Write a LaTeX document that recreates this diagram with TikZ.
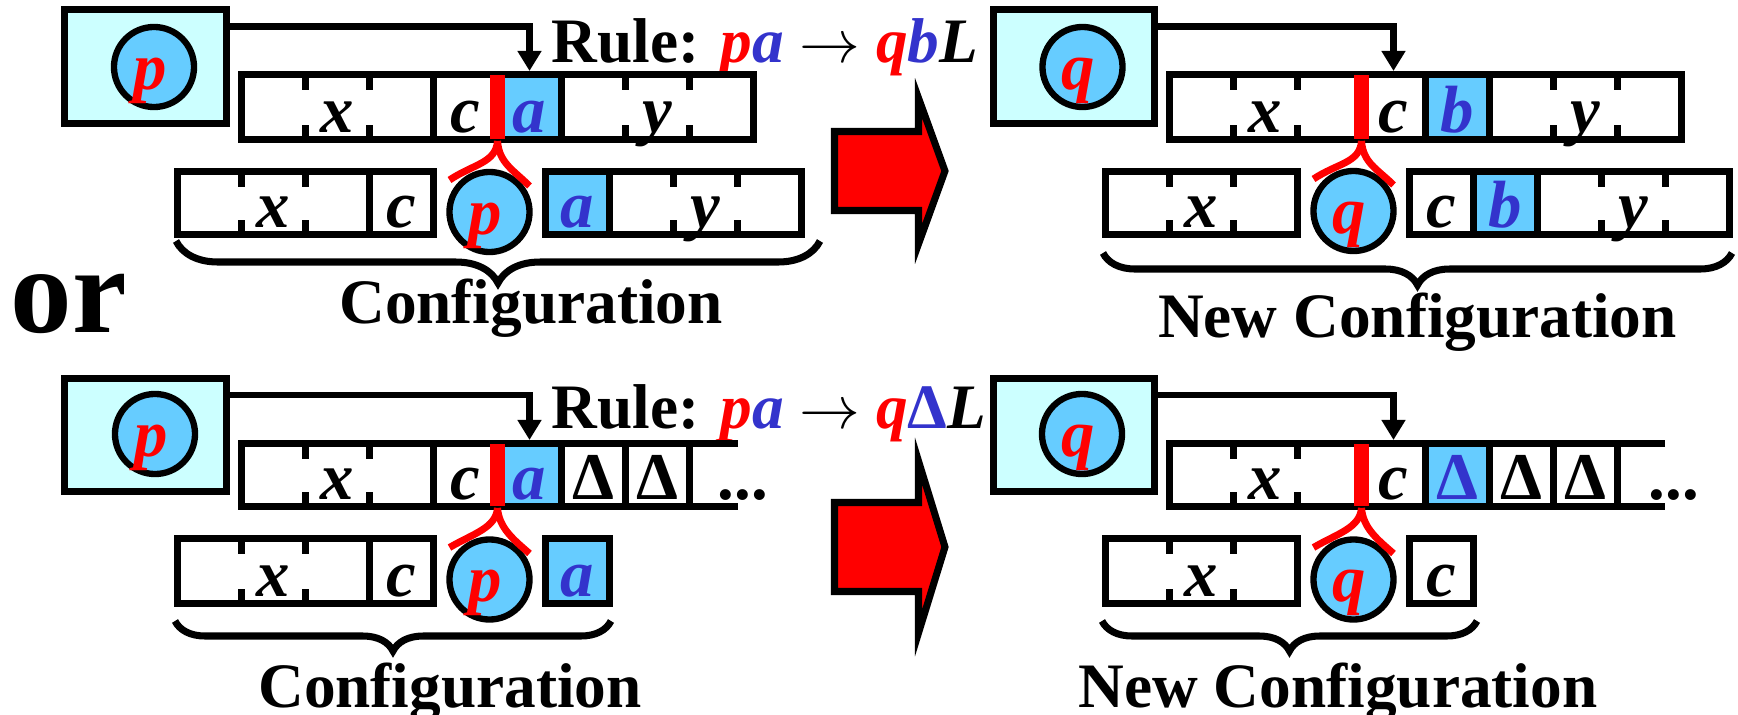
\documentclass[tikz,border=0pt]{standalone}
\usepackage{fontspec}
\setmainfont{Liberation Serif}
\usetikzlibrary{arrows.meta, calc, decorations.pathreplacing}
\definecolor{statecyan}{RGB}{204,255,255}
\definecolor{cellblue}{RGB}{102,204,255}
\definecolor{symblue}{RGB}{51,51,204}

\begin{document}
\begin{tikzpicture}[
  x=0.01cm, y=-0.01cm,
  statebox/.style  = {draw, line width=2pt, fill=statecyan, minimum width=1.61cm,
                      minimum height=1.13cm, inner sep=0pt},
  headcirc/.style  = {circle, draw, line width=1.8pt, fill=cellblue, minimum size=0.80cm, inner sep=0pt},
  tapeline/.style  = {line width=2pt},
  headbar/.style   = {draw=red, line width=4pt},
  fork/.style      = {draw=red, line width=2pt},
  movearrow/.style = {line width=1.9pt, -{Triangle[length=5.7pt, width=6.5pt]}},
  blockarrow/.style= {fill=red, draw=black, line width=2pt, miter limit=10},
  cfgbrace/.style  = {line width=2pt, decorate, decoration={brace, mirror, amplitude=#1}},
  sym/.style       = {anchor=base, inner sep=0pt, font=\fontsize{19}{19}\selectfont\bfseries\itshape},
  dots/.style      = {anchor=base west, inner sep=0pt, font=\fontsize{19}{19}\selectfont\bfseries},
  rulelabel/.style = {anchor=base west, inner sep=0pt, font=\fontsize{18}{18}\selectfont\bfseries},
  cfglabel/.style  = {anchor=base, inner sep=0pt, font=\fontsize{18}{18}\selectfont\bfseries},
]
\useasboundingbox (0,0) rectangle (1738,715);

%% ==================== TOP LEFT: CONFIGURATION ====================
\node[statebox] (stA) at (145.5,66.5) {};
\node[headcirc] (hdA) at (154,67) {};
\node[sym, text=red] (pA) at (150,89) {p};

\node[rulelabel] (ruleA) at (551,62)
  {Rule: \textit{\textcolor{red}{p}\textcolor{symblue}{a}} $\rightarrow$ \textit{\textcolor{red}{q}\textcolor{symblue}{b}L}};

%% upper tape
\fill[cellblue] (497.5,74.5) rectangle (561.5,139.5);
\draw[tapeline] (241.5,74.5) rectangle (753.5,139.5);
\draw[tapeline] (433.5,74.5) -- (433.5,139.5) (561.5,74.5) -- (561.5,139.5);
\foreach \tx in {305.5,369.5,625.5,689.5}
  \draw[tapeline] (\tx,74.5) -- ++(0,15) (\tx,139.5) -- ++(0,-15);
\node[sym] (xA) at (337.5,132) {x};
\node[sym] (cA) at (465.5,132) {c};
\node[sym, text=symblue] (aA) at (529.5,132) {a};
\node[sym] (yA) at (657.5,132) {y};
\draw[headbar] (497.5,75) -- (497.5,139);
\coordinate (barA) at (497.5,141);
\coordinate (scanA) at (529.5,71);
\draw[movearrow] ([yshift=-0.2cm]stA.north east) -| (scanA);

%% lower tape
\draw[tapeline] (177.5,171.5) rectangle (433.5,234.5);
\draw[tapeline] (369.5,171.5) -- (369.5,234.5);
\foreach \tx in {241.5,305.5,673.5,737.5}
  \draw[tapeline] (\tx,171.5) -- ++(0,15) (\tx,234.5) -- ++(0,-15);
\fill[cellblue] (545.5,171.5) rectangle (609.5,234.5);
\draw[tapeline] (545.5,171.5) rectangle (801.5,234.5);
\draw[tapeline] (609.5,171.5) -- (609.5,234.5);
\node[sym] (xA2) at (273.5,227) {x};
\node[sym] (cA2) at (401.5,227) {c};
\node[headcirc] (hdA2) at (489.5,212) {};
\node[sym, text=red] (pA2) at (485.5,234) {p};
\node[sym, text=symblue] (aA2) at (577.5,227) {a};
\node[sym] (yA2) at (705.5,227) {y};

\draw[fork] (barA) .. controls +(-1.5,22) and +(24,-16) .. ($(hdA2)+(-40,-32)$);
\draw[fork] (barA) .. controls +(1.5,22) and +(-16,-16) .. ($(hdA2)+(40,-26)$);

\draw[cfgbrace=0.42cm] (176,241) -- (820,241);
\node[cfglabel] (cfgA) at (531,323) {Configuration};

%% ==================== TOP RIGHT: NEW CONFIGURATION ====================
\node[statebox] (stB) at (1074,66.5) {};
\node[headcirc] (hdB) at (1082.5,67) {};
\node[sym, text=red] (qB) at (1078.5,89) {q};

%% upper tape
\fill[cellblue] (1425.5,74.5) rectangle (1489.5,139.5);
\draw[tapeline] (1169.5,74.5) rectangle (1681.5,139.5);
\draw[tapeline] (1425.5,74.5) -- (1425.5,139.5) (1489.5,74.5) -- (1489.5,139.5);
\foreach \tx in {1233.5,1297.5,1553.5,1617.5}
  \draw[tapeline] (\tx,74.5) -- ++(0,15) (\tx,139.5) -- ++(0,-15);
\node[sym] (xB) at (1265.5,132) {x};
\node[sym] (cB) at (1393.5,132) {c};
\node[sym, text=symblue] (bB) at (1457.5,132) {b};
\node[sym] (yB) at (1585.5,132) {y};
\draw[headbar] (1361.5,75) -- (1361.5,139);
\coordinate (barB) at (1361.5,141);
\coordinate (scanB) at (1393.5,71);
\draw[movearrow] ([yshift=-0.2cm]stB.north east) -| (scanB);

%% lower tape
\draw[tapeline] (1105.5,171.5) rectangle (1297.5,234.5);
\foreach \tx in {1169.5,1233.5,1601.5,1665.5}
  \draw[tapeline] (\tx,171.5) -- ++(0,15) (\tx,234.5) -- ++(0,-15);
\fill[cellblue] (1473.5,171.5) rectangle (1537.5,234.5);
\draw[tapeline] (1409.5,171.5) rectangle (1729.5,234.5);
\draw[tapeline] (1473.5,171.5) -- (1473.5,234.5) (1537.5,171.5) -- (1537.5,234.5);
\node[sym] (xB2) at (1201.5,227) {x};
\node[headcirc] (hdB2) at (1353.5,211) {};
\node[sym, text=red] (qB2) at (1349.5,233) {q};
\node[sym] (cB2) at (1441.5,227) {c};
\node[sym, text=symblue] (bB2) at (1505.5,227) {b};
\node[sym] (yB2) at (1633.5,227) {y};

\draw[fork] (barB) .. controls +(-1.5,22) and +(24,-16) .. ($(hdB2)+(-40,-32)$);
\draw[fork] (barB) .. controls +(1.5,22) and +(-16,-16) .. ($(hdB2)+(40,-26)$);

\draw[cfgbrace=0.32cm] (1103,253) -- (1732,253);
\node[cfglabel] (cfgB) at (1417.5,337) {New Configuration};

%% ==================== STEP ARROWS AND "or" ====================
\draw[blockarrow] (834.5,131.5) -- (918.5,131.5) -- (918.5,98) -- (945,171)
  -- (918.5,244) -- (918.5,210.5) -- (834.5,210.5) -- cycle;
\draw[blockarrow] (834.5,502.5) -- (918.5,502.5) -- (918.5,461) -- (945,547)
  -- (918.5,633) -- (918.5,591.5) -- (834.5,591.5) -- cycle;
\node[anchor=base west, inner sep=0pt, font=\fontsize{35}{35}\selectfont\bfseries] (orlabel) at (10,332) {or};

%% ==================== BOTTOM LEFT: CONFIGURATION ====================
\node[statebox] (stC) at (145.5,435) {};
\node[headcirc] (hdC) at (155,434) {};
\node[sym, text=red] (pC) at (151,456) {p};

\node[rulelabel] (ruleC) at (551,428)
  {Rule: \textit{\textcolor{red}{p}\textcolor{symblue}{a}} $\rightarrow$ \textit{\textcolor{red}{q}}\textcolor{symblue}{Δ}\textit{L}};

%% upper tape (open to the right)
\fill[cellblue] (497.5,443.5) rectangle (561.5,506.5);
\draw[tapeline] (738,443.5) -- (241.5,443.5) -- (241.5,506.5) -- (738,506.5);
\foreach \tx in {433.5,561.5,625.5,689.5}
  \draw[tapeline] (\tx,443.5) -- (\tx,506.5);
\foreach \tx in {305.5,369.5}
  \draw[tapeline] (\tx,443.5) -- ++(0,15) (\tx,506.5) -- ++(0,-15);
\node[sym] (xC) at (337.5,499) {x};
\node[sym] (cC) at (465.5,499) {c};
\node[sym, text=symblue] (aC) at (529.5,499) {a};
\node[sym, font=\fontsize{19}{19}\selectfont\bfseries] (dlC1) at (593.5,499) {Δ};
\node[sym, font=\fontsize{19}{19}\selectfont\bfseries] (dlC2) at (657.5,499) {Δ};
\node[dots] (dotsC) at (717,499) {...};
\draw[headbar] (497.5,444) -- (497.5,506);
\coordinate (barC) at (497.5,508);
\coordinate (scanC) at (529.5,440);
\draw[movearrow] ([yshift=-0.2cm]stC.north east) -| (scanC);

%% lower tape
\draw[tapeline] (177.5,538.5) rectangle (433.5,603.5);
\draw[tapeline] (369.5,538.5) -- (369.5,603.5);
\foreach \tx in {241.5,305.5}
  \draw[tapeline] (\tx,538.5) -- ++(0,15) (\tx,603.5) -- ++(0,-15);
\fill[cellblue] (545.5,538.5) rectangle (609.5,603.5);
\draw[tapeline] (545.5,538.5) rectangle (609.5,603.5);
\node[sym] (xC2) at (273.5,596) {x};
\node[sym] (cC2) at (401.5,596) {c};
\node[headcirc] (hdC2) at (489.5,579.5) {};
\node[sym, text=red] (pC2) at (485.5,601) {p};
\node[sym, text=symblue] (aC2) at (577.5,596) {a};

\draw[fork] (barC) .. controls +(-1.5,20) and +(24,-14) .. ($(hdC2)+(-40,-32)$);
\draw[fork] (barC) .. controls +(1.5,20) and +(-16,-14) .. ($(hdC2)+(40,-26)$);

\draw[cfgbrace=0.30cm] (175,621) -- (611,621);
\node[cfglabel] (cfgC) at (450,707) {Configuration};

%% ==================== BOTTOM RIGHT: NEW CONFIGURATION ====================
\node[statebox] (stD) at (1074,435) {};
\node[headcirc] (hdD) at (1082,434) {};
\node[sym, text=red] (qD) at (1078,456) {q};

%% upper tape (open to the right)
\fill[cellblue] (1425.5,443.5) rectangle (1489.5,506.5);
\draw[tapeline] (1665,443.5) -- (1169.5,443.5) -- (1169.5,506.5) -- (1665,506.5);
\foreach \tx in {1425.5,1489.5,1553.5,1617.5}
  \draw[tapeline] (\tx,443.5) -- (\tx,506.5);
\foreach \tx in {1233.5,1297.5}
  \draw[tapeline] (\tx,443.5) -- ++(0,15) (\tx,506.5) -- ++(0,-15);
\node[sym] (xD) at (1265.5,499) {x};
\node[sym] (cD) at (1393.5,499) {c};
\node[sym, text=symblue, font=\fontsize{19}{19}\selectfont\bfseries] (dlD1) at (1457.5,499) {Δ};
\node[sym, font=\fontsize{19}{19}\selectfont\bfseries] (dlD2) at (1521.5,499) {Δ};
\node[sym, font=\fontsize{19}{19}\selectfont\bfseries] (dlD3) at (1585.5,499) {Δ};
\node[dots] (dotsD) at (1648,499) {...};
\draw[headbar] (1361.5,444) -- (1361.5,506);
\coordinate (barD) at (1361.5,508);
\coordinate (scanD) at (1393.5,440);
\draw[movearrow] ([yshift=-0.2cm]stD.north east) -| (scanD);

%% lower tape
\draw[tapeline] (1105.5,538.5) rectangle (1297.5,603.5);
\foreach \tx in {1169.5,1233.5}
  \draw[tapeline] (\tx,538.5) -- ++(0,15) (\tx,603.5) -- ++(0,-15);
\draw[tapeline] (1409.5,538.5) rectangle (1473.5,603.5);
\node[sym] (xD2) at (1201.5,596) {x};
\node[headcirc] (hdD2) at (1353.5,579.5) {};
\node[sym, text=red] (qD2) at (1349.5,601) {q};
\node[sym] (cD2) at (1441.5,596) {c};

\draw[fork] (barD) .. controls +(-1.5,20) and +(24,-14) .. ($(hdD2)+(-40,-32)$);
\draw[fork] (barD) .. controls +(1.5,20) and +(-16,-14) .. ($(hdD2)+(40,-26)$);

\draw[cfgbrace=0.30cm] (1102,621) -- (1477,621);
\node[cfglabel] (cfgD) at (1338,707) {New Configuration};

\end{tikzpicture}
\end{document}
